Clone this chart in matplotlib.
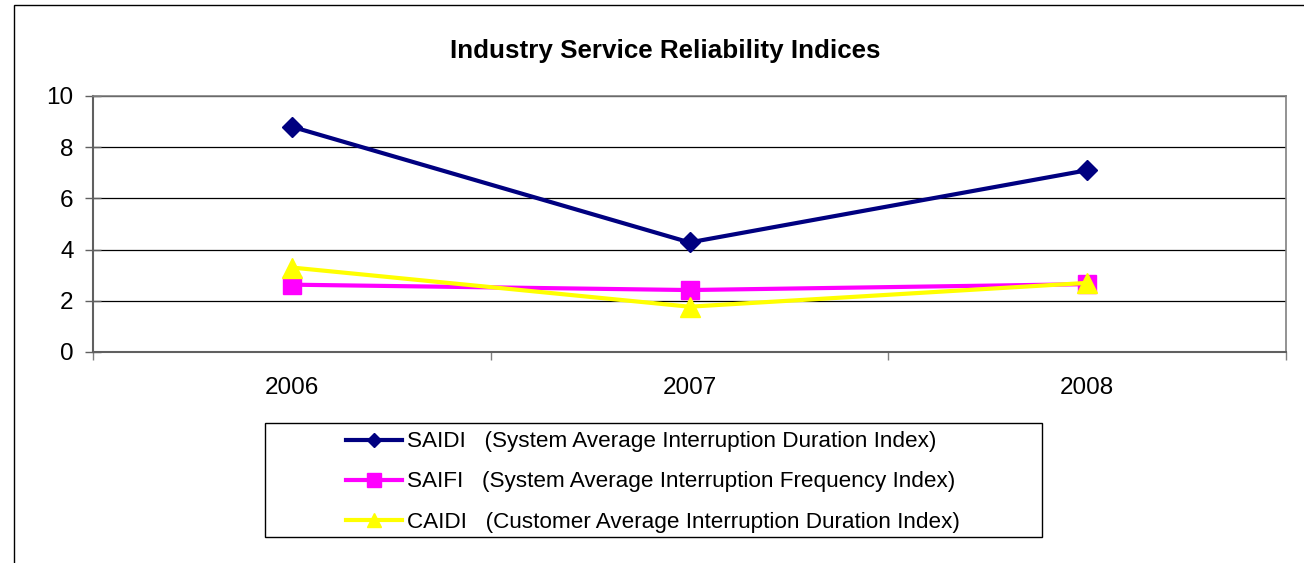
import matplotlib.pyplot as plt
from matplotlib.lines import Line2D
from matplotlib.patches import Rectangle
from matplotlib.ticker import FixedLocator

plt.rcParams["font.family"] = ["Liberation Sans", "DejaVu Sans"]

years = ["2006", "2007", "2008"]
saidi = [8.8, 4.28, 7.1]
saifi = [2.63, 2.42, 2.65]
caidi = [3.3, 1.77, 2.7]

series_labels = [
    "SAIDI   (System Average Interruption Duration Index)",
    "SAIFI   (System Average Interruption Frequency Index)",
    "CAIDI   (Customer Average Interruption Duration Index)",
]
y_ticks = [0, 2, 4, 6, 8, 10]

W, H = 1304, 563
fig = plt.figure(figsize=(W / 100, H / 100), dpi=100)
ax = fig.add_axes([93 / W, 1 - 352 / H, (1286 - 93) / W, (352 - 96) / H])

x = list(range(len(years)))
styles = [
    (saidi, "#000080", "D", 10),
    (saifi, "#FF00FF", "s", 13),
    (caidi, "#FFFF00", "^", 14),
]
handles = []
for values, color, marker, ms in styles:
    (h,) = ax.plot(x, values, color=color, lw=3, marker=marker, markersize=ms,
                   markeredgecolor=color, zorder=3, clip_on=False)
    handles.append(h)

ax.set_xlim(-0.5, len(years) - 0.5)
ax.set_ylim(0, 10)
ax.set_yticks(y_ticks)
ax.set_yticklabels([str(v) for v in y_ticks], fontsize=17.5)
ax.set_xticks(x)
ax.set_xticklabels(years, fontsize=17.5)
ax.xaxis.set_minor_locator(FixedLocator([i - 0.5 for i in range(len(years) + 1)]))
ax.tick_params(axis="x", which="major", length=0, pad=18)
ax.tick_params(axis="x", which="minor", length=6, width=1, color="#808080")
ax.tick_params(axis="y", direction="inout", length=11, width=1, color="#606060", pad=8.5)

ax.grid(axis="y", color="black", lw=0.9, zorder=1)
for side in ["top", "right"]:
    ax.spines[side].set_color("#808080")
    ax.spines[side].set_linewidth(1.2)
for side in ["left", "bottom"]:
    ax.spines[side].set_color("#606060")
    ax.spines[side].set_linewidth(1.5)

fig.text(665 / W, 1 - 51 / H, "Industry Service Reliability Indices",
         fontsize=18.7, fontweight="bold", ha="center", va="center")

# legend frame drawn separately so entries stay centred in a wide box
fig.patches.append(Rectangle((265 / W, 1 - 537 / H), (1042 - 265) / W, (537 - 423) / H,
                             transform=fig.transFigure, fill=False, edgecolor="black",
                             lw=1, zorder=5))
leg_handles = [Line2D([], [], color=h.get_color(), lw=3, marker=h.get_marker(),
                      markersize=h.get_markersize() * 0.75, markeredgecolor=h.get_color())
               for h in handles]
fig.legend(leg_handles, series_labels, loc="center", bbox_to_anchor=(653 / W, 1 - 482 / H),
           frameon=False, fontsize=16.2, handlelength=2.5, handletextpad=0.2,
           labelspacing=0.85)

# outer chart border (right and bottom edges are cropped off in the original)
fig.patches.append(Rectangle((14 / W, -0.1), 1.2, 1 - 5 / H + 0.1, transform=fig.transFigure,
                             fill=False, edgecolor="black", lw=1, clip_on=False))

fig.savefig("out.png", dpi=100)
